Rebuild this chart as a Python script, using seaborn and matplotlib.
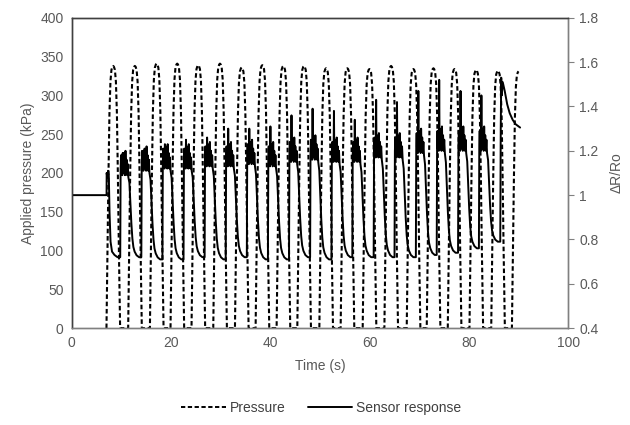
import pandas as pd
import seaborn as sns
import matplotlib.pyplot as plt
from matplotlib.lines import Line2D
from matplotlib.ticker import FuncFormatter

# ---- pressure (kPa) ----
peak_time = [8.33, 12.70, 17.08, 21.23, 25.46, 29.84, 34.21, 38.37, 42.60, 46.77,
             51.21, 55.50, 59.94, 64.31, 68.81, 72.84, 77.08, 81.45, 85.83]
peak_kpa = [338, 338, 341, 341, 339, 341, 336, 339, 338, 338,
            335, 335, 334, 338, 334, 335, 334, 333, 332]
end_time = 90.0
end_kpa = 331
# one pulse: seconds from its peak and fraction of the peak
pulse_dt = [-1.35, -1.15, -0.95, -0.75, -0.55, -0.35, -0.15, 0.0,
            0.15, 0.35, 0.55, 0.75, 0.95, 1.15, 1.4]
pulse_frac = [0.0, 0.30, 0.58, 0.82, 0.94, 0.985, 0.997, 1.0,
              0.997, 0.985, 0.94, 0.82, 0.58, 0.30, 0.0]

# ---- sensor response (dR/Ro) ----
start_t = [0.0, 7.0, 7.02, 7.15, 7.3, 7.45, 7.6, 7.8, 8.1, 8.6, 9.2]
start_r = [1.0, 1.0, 1.10, 1.08, 1.11, 1.09, 0.92, 0.79, 0.745, 0.73, 0.72]
rise_time = [9.75, 14.0, 18.25, 22.5, 26.75, 31.0, 35.25, 39.5, 43.75,
             48.0, 52.3, 56.5, 60.8, 65.0, 69.3, 73.5, 77.8, 82.0]
hump_level = [1.14, 1.16, 1.17, 1.17, 1.18, 1.18, 1.19, 1.18, 1.20,
              1.21, 1.20, 1.20, 1.22, 1.22, 1.24, 1.25, 1.25, 1.25]
spike_top = [1.19, 1.20, 1.23, 1.25, 1.26, 1.30, 1.30, 1.31, 1.36,
             1.39, 1.38, 1.34, 1.43, 1.42, 1.47, 1.52, 1.47, 1.45]
low_level = [0.72, 0.71, 0.71, 0.72, 0.71, 0.72, 0.71, 0.71, 0.72,
             0.71, 0.72, 0.72, 0.72, 0.72, 0.73, 0.74, 0.76, 0.79]
# top of a hump: seconds after the rise, offset from the hump level (None = spike)
top_dt = [0.08, 0.16, 0.24, 0.32, 0.42, 0.5, 0.58, 0.66, 0.76, 0.86,
          0.96, 1.06, 1.16, 1.28, 1.4, 1.52, 1.64]
top_dv = [-0.02, 0.04, -0.04, 0.03, -0.05, None, -0.03, 0.05, -0.04, 0.03,
          -0.05, 0.06, -0.04, 0.02, -0.05, 0.0, -0.06]
# fall of a hump: seconds after the rise, fraction between low and hump level
fall_dt = [1.85, 2.05, 2.25, 2.45, 2.65, 2.9, 3.3, 3.8]
fall_frac = [0.8, 0.58, 0.36, 0.2, 0.11, 0.06, 0.02, 0.0]
final_t = [86.3, 86.4, 86.5, 86.6, 86.8, 87.2, 87.7, 88.2, 88.8, 89.4, 90.3]
final_r = [0.79, 1.30, 1.53, 1.45, 1.51, 1.47, 1.41, 1.37, 1.34, 1.32, 1.305]

# build the tables
p_t, p_v = [], []
for tp, pk in zip(peak_time, peak_kpa):
    p_t += [tp + d for d in pulse_dt]
    p_v += [pk * f for f in pulse_frac]
p_t += [end_time + d for d in pulse_dt[:8]]
p_v += [end_kpa * f for f in pulse_frac[:8]]
pressure = pd.DataFrame({"time": p_t, "kpa": p_v})

s_t, s_v = list(start_t), list(start_r)
for tr, h, sp, lo in zip(rise_time, hump_level, spike_top, low_level):
    s_t.append(tr)
    s_v.append(s_v[-1])
    for d, dv in zip(top_dt, top_dv):
        s_t.append(tr + d)
        s_v.append(sp if dv is None else h + dv)
    for d, f in zip(fall_dt, fall_frac):
        s_t.append(tr + d)
        s_v.append(lo + f * (h - lo))
s_t += final_t
s_v += final_r
sensor = pd.DataFrame({"time": s_t, "r": s_v})

sns.set_style("white")
plt.rcParams["font.family"] = ["Liberation Sans", "DejaVu Sans"]
grey = "#595959"

fig = plt.figure(figsize=(6.3, 4.25), dpi=100)
ax = fig.add_axes([0.114, 0.228, 0.788, 0.730])
ax2 = ax.twinx()

sns.lineplot(data=pressure, x="time", y="kpa", ax=ax, color="black", lw=1.5,
             linestyle=(0, (2.2, 1.3)), estimator=None, sort=False)
sns.lineplot(data=sensor, x="time", y="r", ax=ax2, color="black", lw=1.4,
             estimator=None, sort=False)

ax.set_xlim(0, 100)
ax.set_ylim(0, 400)
ax2.set_ylim(0.4, 1.8)
ax.set_xticks(range(0, 101, 20))
ax.set_yticks(range(0, 401, 50))
ax2.set_yticks([0.4, 0.6, 0.8, 1.0, 1.2, 1.4, 1.6, 1.8])
ax2.yaxis.set_major_formatter(FuncFormatter(lambda v, p: f"{v:g}"))

ax.set_xlabel("Time (s)", color=grey, fontsize=10, labelpad=6)
ax.set_ylabel("Applied pressure (kPa)", color=grey, fontsize=10, labelpad=4)
ax2.set_ylabel("\u0394R/Ro", color=grey, fontsize=10, labelpad=8)

ax.tick_params(axis="both", length=0, labelsize=10, labelcolor=grey, pad=6)
ax2.tick_params(axis="y", length=4, width=0.8, color="#808080", direction="out",
                labelsize=10, labelcolor=grey, pad=4)

for a in (ax, ax2):
    for side in ("left", "top"):
        a.spines[side].set_color("#404040")
    for side in ("right", "bottom"):
        a.spines[side].set_color("#808080")
    for sp in a.spines.values():
        sp.set_linewidth(1.0)

handles = [Line2D([], [], color="black", lw=1.4, linestyle=(0, (2.2, 1.3))),
           Line2D([], [], color="black", lw=1.4)]
fig.legend(handles, ["Pressure", "Sensor response"], loc="center",
           bbox_to_anchor=(0.51, 0.04), ncol=2, frameon=False, fontsize=10,
           handlelength=3.2, handletextpad=0.3, columnspacing=1.6, labelcolor="#404040")

fig.savefig("out.png", dpi=100)
